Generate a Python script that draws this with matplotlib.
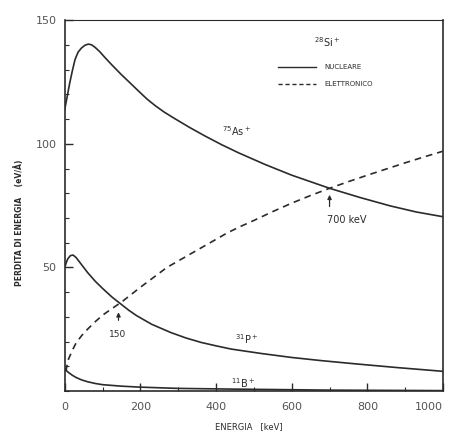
import numpy as np
import matplotlib
matplotlib.use("Agg")
import matplotlib.pyplot as plt
from matplotlib.ticker import MultipleLocator


# Perdita di energia in Si (eV/Å) in funzione dell'energia dello ione (keV)
E_as = [0, 5, 13, 20, 27, 35, 44, 53, 62, 71, 80, 92, 106, 125, 150, 172, 195,
        218, 240, 262, 285, 330, 370, 415, 460, 530, 600, 700, 780, 860, 930, 1000]
S_as = [114, 118, 124.5, 129.5, 134, 137, 138.7, 139.8, 140.3, 140, 139, 137.3,
        134.9, 131.8, 127.9, 124.7, 121.3, 118, 115.3, 112.9, 110.7, 106.6,
        103.2, 99.6, 96.3, 91.6, 87.3, 82, 78.3, 74.9, 72.4, 70.5]

E_p = [0, 4, 8, 15, 22, 30, 40, 50, 60, 80, 100, 125, 150, 170, 190, 230, 280,
       320, 360, 400, 440, 520, 600, 680, 770, 880, 1000]
S_p = [50, 52, 53.5, 54.8, 55, 54, 52, 50, 48, 44.5, 41.5, 38, 35, 32.6, 30.5,
       27, 23.7, 21.5, 19.7, 18.3, 17, 15.2, 13.6, 12.3, 11, 9.5, 8]

E_b = [0, 5, 10, 20, 30, 45, 60, 80, 100, 150, 200, 300, 450, 700, 1000]
S_b = [9, 8.2, 7.5, 6.4, 5.5, 4.5, 3.8, 3.1, 2.6, 2.0, 1.6, 1.1, 0.8, 0.4, 0.2]

E_el = [3, 6, 10, 20, 30, 45, 60, 80, 100, 125, 150, 175, 200, 235, 270, 310,
        350, 390, 430, 465, 500, 550, 600, 650, 700, 750, 800, 850, 900, 950, 1000]
S_el = [8, 10.5, 13, 16.5, 19.5, 22.5, 25, 28, 30.7, 33.4, 36, 39, 42, 46, 50,
        53.5, 57, 60.5, 64, 66.6, 69, 72.6, 76, 79.1, 82, 84.7, 87.3, 89.8,
        92.3, 94.7, 97]

ioni = ["$^{75}$As$^+$", "$^{31}$P$^+$", "$^{11}$B$^+$"]
pos_ioni = [(455, 105), (480, 21), (470, 3.2)]

col = "#2b2b2b"
fig = plt.figure(figsize=(4.53, 4.37), dpi=100)
ax = fig.add_axes([0.143, 0.105, 0.835, 0.849])

kw = dict(color=col, lw=1.2, solid_joinstyle="round", dash_joinstyle="round")
ax.plot(E_as, S_as, **kw)
ax.plot(E_p, S_p, **kw)
ax.plot(E_b, S_b, **kw)
ax.plot(E_el, S_el, dashes=(4, 3), **kw)

for nome, (x, y) in zip(ioni, pos_ioni):
    ax.text(x, y, nome, fontsize=7, color=col, ha="center", va="center")

ax.text(693, 141, "$^{28}$Si$^+$", fontsize=7, color=col, ha="center", va="center")

# legenda disegnata a mano
ax.plot([565, 665], [131, 131], color=col, lw=1.0)
ax.plot([565, 665], [124, 124], color=col, lw=1.0, dashes=(3, 2))
ax.text(685, 131, "NUCLEARE", fontsize=5, color=col, va="center")
ax.text(685, 124, "ELETTRONICO", fontsize=5, color=col, va="center")

# incroci
ax.annotate("", xy=(700, 80.5), xytext=(700, 73.5),
            arrowprops=dict(arrowstyle="-|>", color=col, lw=0.9, mutation_scale=6))
ax.text(745, 69, "700 keV", fontsize=7, color=col, ha="center", va="center")
ax.annotate("", xy=(142, 33), xytext=(142, 27.5),
            arrowprops=dict(arrowstyle="-|>", color=col, lw=0.9, mutation_scale=6))
ax.text(140, 23, "150", fontsize=6.5, color=col, ha="center", va="center")

ax.set_xlim(0, 1000)
ax.set_ylim(0, 150)
ax.set_xticks([0, 200, 400, 600, 800, 1000])
ax.xaxis.set_minor_locator(MultipleLocator(100))
ax.yaxis.set_minor_locator(MultipleLocator(10))
ax.set_yticks([50, 100, 150])
ax.tick_params(which="both", direction="in", color=col)
ax.tick_params(which="major", length=6, width=1)
ax.tick_params(which="minor", length=3, width=0.8)
ax.tick_params(axis="x", pad=8, labelsize=8, labelcolor="#555555")
ax.tick_params(axis="y", pad=6, labelsize=8, labelcolor="#555555")
for s in ax.spines.values():
    s.set_color(col)
    s.set_linewidth(1.2)
ax.spines["top"].set_linewidth(0.8)

# l'ultima etichetta dell'asse x sta sul bordo destro
ax.get_xticklabels()[-1].set_horizontalalignment("right")

fig.text(0.042, 0.49, "PERDITA DI ENERGIA    (eV/Å)", rotation=90, fontsize=5.5,
         color=col, ha="center", va="center", fontweight="bold")
fig.text(0.55, 0.013, "ENERGIA   [keV]", fontsize=6, color=col, ha="center",
         va="bottom")

fig.savefig("out.png", dpi=100)
